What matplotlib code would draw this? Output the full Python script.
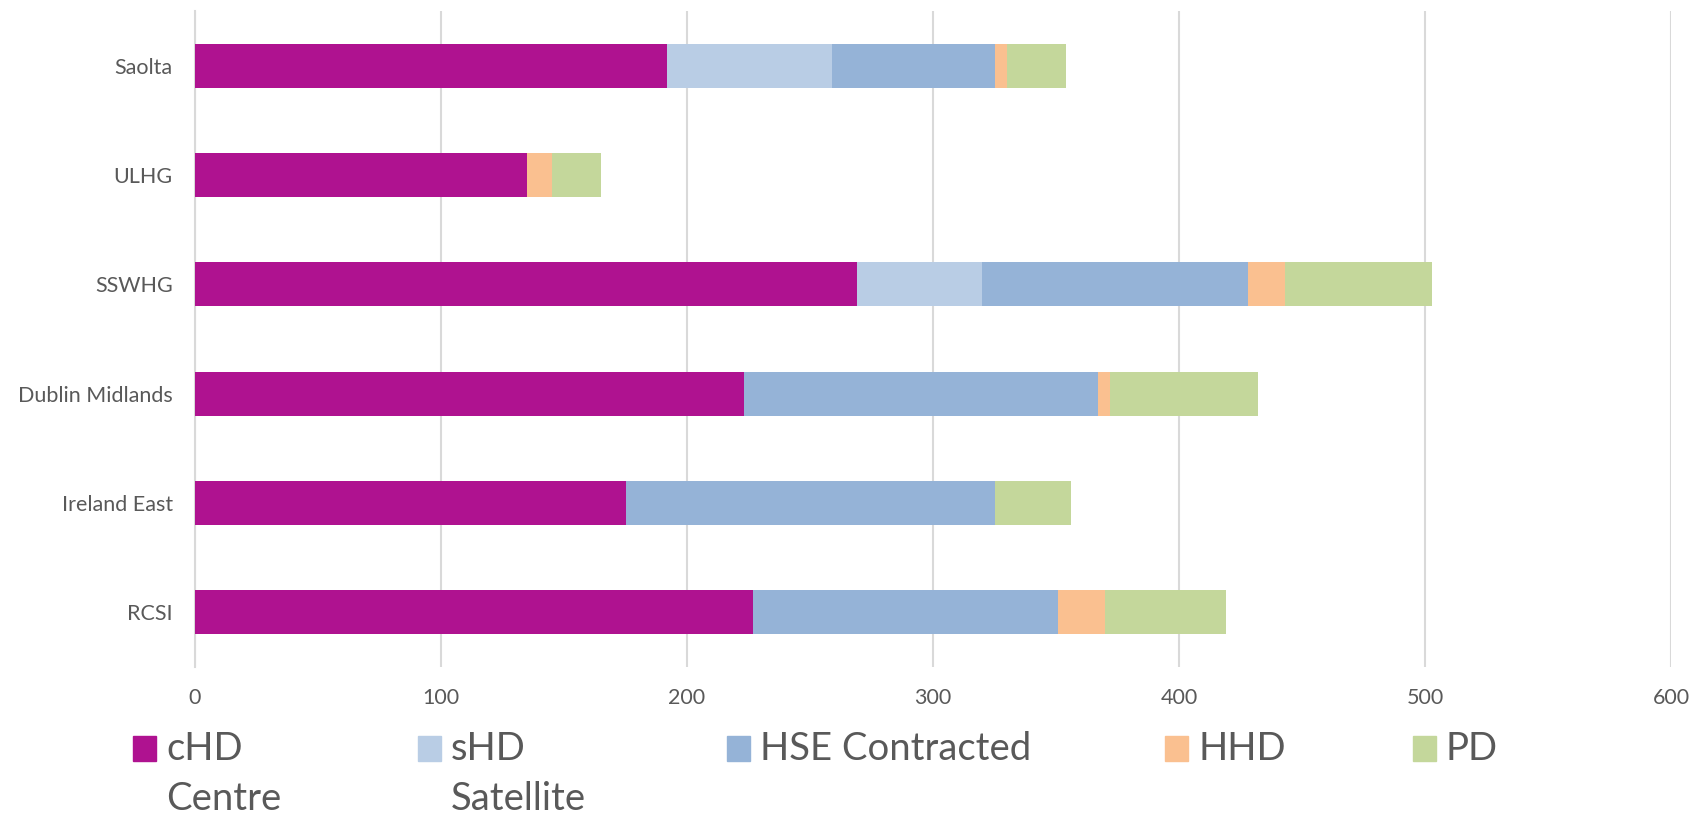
import matplotlib
matplotlib.use("Agg")
import matplotlib.pyplot as plt
from matplotlib.patches import Rectangle
import numpy as np

categories = ["Saolta", "ULHG", "SSWHG", "Dublin Midlands", "Ireland East", "RCSI"]
series_names = ["cHD\nCentre", "sHD\nSatellite", "HSE Contracted", "HHD", "PD"]
cHD = [192, 135, 269, 223, 175, 227]
sHD = [67, 0, 51, 0, 0, 0]
hse = [66, 0, 108, 144, 150, 124]
hhd = [5, 10, 15, 5, 0, 19]
pd_ = [24, 20, 60, 60, 31, 49]
series = [cHD, sHD, hse, hhd, pd_]
colors = ["#AF1290", "#B9CDE5", "#95B3D7", "#FAC090", "#C4D79B"]
xticks = [0, 100, 200, 300, 400, 500, 600]

plt.rcParams['font.family'] = ['Lato', 'DejaVu Sans']

W, H = 1706, 817
fig = plt.figure(figsize=(W / 100, H / 100), dpi=100)
ax = fig.add_axes([195 / W, 1 - 667 / H, (1671 - 195) / W, (667 - 11) / H])

y = np.arange(len(categories))
left = np.zeros(len(categories))
for vals, col, name in zip(series, colors, series_names):
    ax.barh(y, vals, left=left, height=0.4, color=col, label=name, zorder=3)
    left += np.array(vals)

ax.set_ylim(len(categories) - 0.5, -0.5)
ax.set_xlim(0, 600)
ax.set_yticks(y)
ax.set_yticklabels(categories, fontsize=15.5, color="#595959")
ax.set_xticks(xticks)
ax.set_xticklabels([str(t) for t in xticks], fontsize=15.5, color="#595959")
ax.tick_params(axis="both", length=0)
ax.tick_params(axis="y", pad=16)
ax.tick_params(axis="x", pad=15)
ax.grid(axis="x", color="#D9D9D9", linewidth=1.5, zorder=0)
for s in ["top", "right", "bottom"]:
    ax.spines[s].set_visible(False)
ax.spines["left"].set_color("#D9D9D9")
ax.spines["left"].set_linewidth(1.5)
ax.spines["left"].set_zorder(1)

# legend drawn manually to match wrapped Excel style
leg_x = [133, 418, 727, 1165, 1413]
sq_top, sq_h, sq_w = 736, 25, 23
for lx, col, name in zip(leg_x, colors, series_names):
    fig.patches.append(Rectangle((lx / W, 1 - (sq_top + sq_h) / H), sq_w / W, sq_h / H,
                                 transform=fig.transFigure, color=col, zorder=5))
    fig.text((lx + sq_w + 10) / W, 1 - 731 / H, name, fontsize=27.5, color="#595959",
             va="top", ha="left", linespacing=1.5)

fig.savefig("out.png", dpi=100)
